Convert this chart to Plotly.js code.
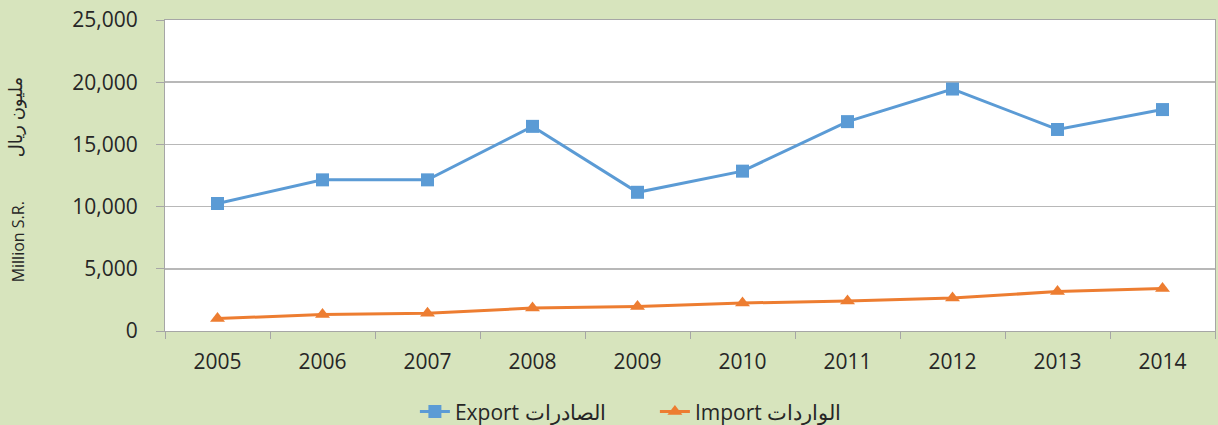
<!DOCTYPE html>
<html>
<head>
<meta charset="utf-8">
<script src="https://cdn.plot.ly/plotly-3.0.1.min.js"></script>
<style>html,body{margin:0;padding:0;background:#D7E4BD;}#chart{width:1218px;height:425px;}</style>
</head>
<body>
<div id="chart"></div>
<script>
const years = ['2005','2006','2007','2008','2009','2010','2011','2012','2013','2014'];
const exportValues = [10250, 12150, 12150, 16450, 11150, 12850, 16830, 19450, 16200, 17800];
const importValues = [1000, 1320, 1420, 1850, 1960, 2250, 2410, 2650, 3170, 3410];
const exportName = 'Export الصادرات';
const importName = 'Import الواردات';
const yTitleEn = 'Million S.R.';
const yTitleAr = 'مليون ريال';

const font = 'Open Sans, Noto Sans, sans-serif';
const traces = [
  {x: years, y: exportValues, name: exportName, type: 'scatter', mode: 'lines+markers',
   line: {color: '#5B9BD5', width: 3}, marker: {symbol: 'square', size: 13, color: '#5B9BD5'}},
  {x: years, y: importValues, name: importName, type: 'scatter', mode: 'lines+markers',
   line: {color: '#ED7D31', width: 3}, marker: {symbol: 'triangle-up', size: 13, color: '#ED7D31'}}
];
const layout = {
  width: 1218, height: 425,
  paper_bgcolor: '#D7E4BD', plot_bgcolor: '#FFFFFF',
  margin: {l: 165, r: 3, t: 20, b: 94, autoexpand: false},
  font: {family: font, size: 21, color: '#262626'},
  showlegend: true,
  legend: {orientation: 'h', x: 0.238, xanchor: 'left', y: -0.26, yanchor: 'middle',
           font: {family: font, size: 21, color: '#262626'}, bgcolor: 'rgba(0,0,0,0)',
           entrywidth: 195, entrywidthmode: 'pixels', traceorder: 'normal'},
  xaxis: {type: 'category', range: [-0.5, 9.5], tickson: 'boundaries', ticks: 'outside', ticklen: 7,
          tickcolor: '#A6A6A6', showline: true, linecolor: '#A6A6A6', linewidth: 1, mirror: true,
          showgrid: false, automargin: false, tickfont: {size: 21, color: '#262626'}, ticklabelstandoff: 12},
  yaxis: {range: [0, 25000], dtick: 5000, tickformat: ',d', ticks: 'outside', ticklen: 8,
          tickcolor: '#A6A6A6', showline: true, linecolor: '#A6A6A6', linewidth: 1, mirror: true,
          gridcolor: '#B8B8B8', gridwidth: 1.5, zeroline: false, automargin: false,
          tickfont: {size: 21, color: '#262626'}, ticklabelstandoff: 14},
  annotations: [
    {text: yTitleEn, xref: 'paper', yref: 'paper', x: -0.14, y: 0.285, textangle: -90,
     showarrow: false, font: {family: font, size: 16, color: '#262626'}, xanchor: 'center', yanchor: 'middle'},
    {text: yTitleAr, xref: 'paper', yref: 'paper', x: -0.142, y: 0.69, textangle: -90,
     showarrow: false, font: {family: 'Noto Sans, DejaVu Sans, sans-serif', size: 18, color: '#262626'}, xanchor: 'center', yanchor: 'middle'}
  ]
};
Plotly.newPlot('chart', traces, layout, {displayModeBar: false, staticPlot: true});
</script>
</body>
</html>
